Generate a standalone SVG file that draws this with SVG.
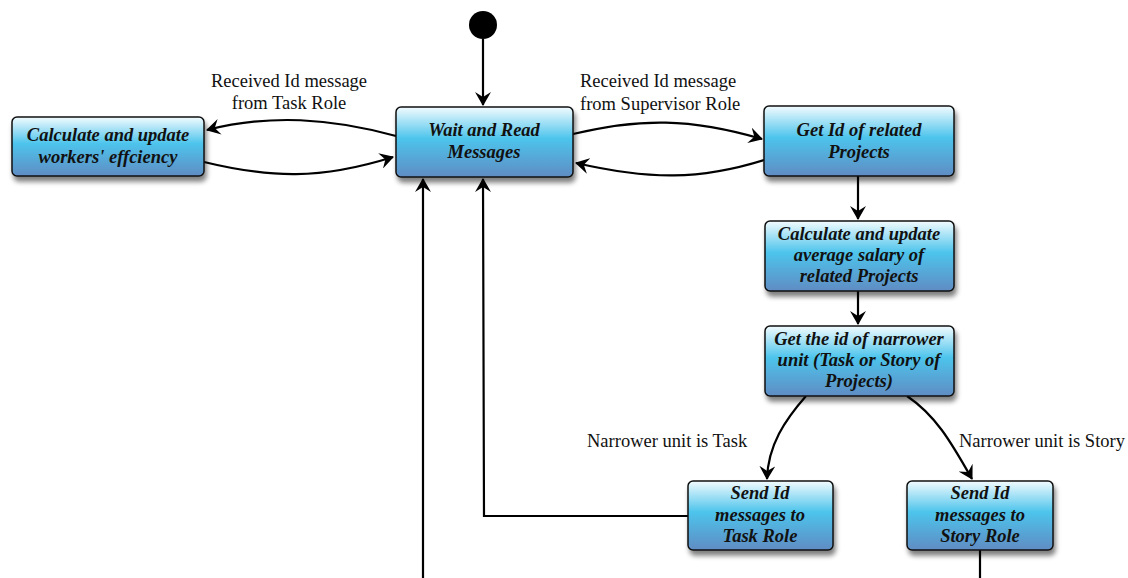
<svg xmlns="http://www.w3.org/2000/svg" width="1128" height="578" viewBox="0 0 1128 578">
<style>
.node rect{fill:url(#g);stroke:#111;stroke-width:1.5;filter:url(#sh)}
.node text{font-family:"Liberation Serif",serif;font-weight:bold;font-style:italic;font-size:18.5px;text-anchor:middle;fill:#111}
.lbl text{font-family:"Liberation Serif",serif;font-size:18.5px;fill:#111}
.c path,.c line{fill:none;stroke:#000;stroke-width:2.2}
.a{marker-end:url(#ar)}
</style>
<defs>
<linearGradient id="g" x1="0" y1="0" x2="0" y2="1">
<stop offset="0" stop-color="#f2fbfe"/>
<stop offset="0.45" stop-color="#4dc4ec"/>
<stop offset="1" stop-color="#5f8cc3"/>
</linearGradient>
<filter id="sh" x="-10%" y="-10%" width="125%" height="140%">
<feGaussianBlur in="SourceAlpha" stdDeviation="2.5"/>
<feOffset dx="2" dy="5" result="b"/>
<feComponentTransfer><feFuncA type="linear" slope="0.5"/></feComponentTransfer>
<feMerge><feMergeNode/><feMergeNode in="SourceGraphic"/></feMerge>
</filter>
<marker id="ar" viewBox="0 0 14 16" refX="13" refY="8" markerWidth="14" markerHeight="16" markerUnits="userSpaceOnUse" orient="auto">
<path d="M0,0 L14,8 L0,16 L5,8 z" fill="#000"/>
</marker>
</defs>

<g id="start"><circle cx="483" cy="25" r="14" fill="#000"/></g>

<g class="c" id="connectors">
<line class="a" x1="483" y1="39" x2="483" y2="105"/>
<path class="a" d="M396,136 C330,118 270,114 207,130"/>
<path class="a" d="M204,162 C270,178 320,180 393,157"/>
<path class="a" d="M573,134 C640,118 690,118 762,139"/>
<path class="a" d="M764,160 C700,180 650,180 576,163"/>
<line class="a" x1="858" y1="176" x2="858" y2="219"/>
<line class="a" x1="858" y1="291" x2="858" y2="324"/>
<path class="a" d="M806,396 C785,420 768,445 767,479"/>
<path class="a" d="M907,396 C935,415 950,440 972,479"/>
<path class="a" d="M688,516 L484,516 L483,179"/>
<line class="a" x1="423" y1="578" x2="423" y2="179"/>
<line x1="980" y1="550" x2="980" y2="578"/>
</g>

<g class="lbl" id="labels">
<text x="289" y="87" text-anchor="middle">Received Id message</text>
<text x="289" y="109" text-anchor="middle">from Task Role</text>
<text x="580" y="87">Received Id message</text>
<text x="580" y="110">from Supervisor Role</text>
<text x="587" y="447">Narrower unit is Task</text>
<text x="959" y="447">Narrower unit is Story</text>
</g>

<g class="node" id="wait"><rect x="396" y="107" width="177" height="70" rx="5"/>
<text x="484" y="136">Wait and Read</text><text x="484" y="158">Messages</text></g>

<g class="node" id="calcWorkers"><rect x="12" y="117" width="192" height="59" rx="5"/>
<text x="108" y="141">Calculate and update</text><text x="108" y="163">workers' effciency</text></g>

<g class="node" id="getId"><rect x="764" y="106" width="190" height="70" rx="5"/>
<text x="859" y="136">Get Id of related</text><text x="859" y="158">Projects</text></g>

<g class="node" id="calcAvg"><rect x="765" y="221" width="189" height="70" rx="5"/>
<text x="859" y="240">Calculate and update</text><text x="859" y="261">average salary of</text><text x="859" y="282">related Projects</text></g>

<g class="node" id="narrower"><rect x="765" y="326" width="189" height="70" rx="5"/>
<text x="859" y="345">Get the id of narrower</text><text x="859" y="366">unit (Task or Story of</text><text x="859" y="387">Projects)</text></g>

<g class="node" id="sendTask"><rect x="688" y="481" width="145" height="69" rx="5"/>
<text x="760" y="499">Send Id</text><text x="760" y="521">messages to</text><text x="760" y="542">Task Role</text></g>

<g class="node" id="sendStory"><rect x="907" y="481" width="146" height="69" rx="5"/>
<text x="980" y="499">Send Id</text><text x="980" y="521">messages to</text><text x="980" y="542">Story Role</text></g>
</svg>
